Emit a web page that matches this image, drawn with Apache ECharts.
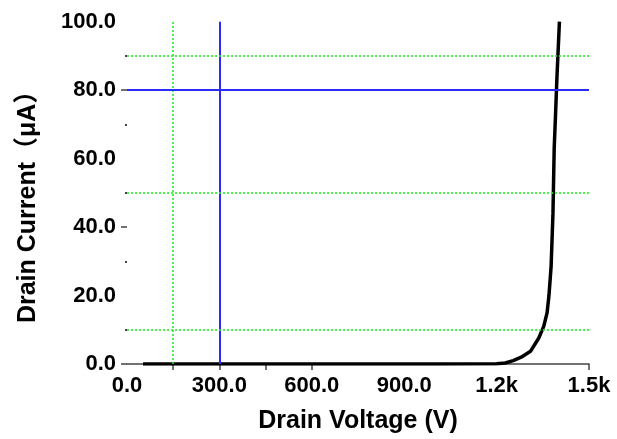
<!DOCTYPE html>
<html>
<head>
<meta charset="utf-8">
<script src="https://cdn.jsdelivr.net/npm/echarts@6/dist/echarts.min.js"></script>
<style>
html,body{margin:0;padding:0;background:#fff;}
#chart{width:617px;height:439px;}
</style>
</head>
<body>
<div id="chart"></div>
<script>
// Drain voltage (V) and drain current (uA)
var voltage = [52, 200, 400, 600, 800, 1000, 1200, 1228, 1254, 1280, 1310, 1337, 1353, 1364, 1370, 1377, 1383, 1387, 1391, 1396, 1400, 1404];
var current = [0, 0, 0, 0, 0, 0, 0.1, 0.3, 1.0, 2.0, 3.7, 7.6, 11, 15, 20, 28.5, 44, 63, 72, 84, 92, 100];

// Reference lines
var greenVertical = [150];
var blueVertical = [300];
var blueHorizontal = [80];
var greenHorizontal = [90, 50, 10];

// Axis ticks
var xTickLabels = ['0.0', '300.0', '600.0', '900.0', '1.2k', '1.5k'];
var xTickValues = [150, 300, 450, 600, 1500];
var yTickValues = [0, 40, 80];

var xTitle = 'Drain Voltage (V)';
var yTitle = 'Drain Current（μA）';

var curve = voltage.map(function (v, i) { return [v, current[i]]; });

var green = '#22f022', blue = '#2a2aff';
var mlData = [];
greenVertical.forEach(function (v) { mlData.push({ xAxis: v, lineStyle: { color: green, type: [2, 2], width: 1.6 } }); });
blueVertical.forEach(function (v) { mlData.push({ xAxis: v, lineStyle: { color: blue, type: 'solid', width: 2 } }); });
greenHorizontal.forEach(function (v) { mlData.push({ yAxis: v, lineStyle: { color: green, type: [2, 2], width: 1.6 } }); });
blueHorizontal.forEach(function (v) { mlData.push({ yAxis: v, lineStyle: { color: blue, type: 'solid', width: 2 } }); });

var chart = echarts.init(document.getElementById('chart'), null, { renderer: 'canvas' });
var font = '"Liberation Sans", Arial, sans-serif';
chart.setOption({
  animation: false,
  backgroundColor: '#ffffff',
  grid: { left: 127, right: 28, top: 21.7, bottom: 74.7, containLabel: false },
  xAxis: {
    type: 'value', min: 0, max: 1500, interval: 300,
    name: xTitle, nameLocation: 'middle', nameGap: 45,
    nameTextStyle: { fontFamily: font, fontWeight: 'bold', fontSize: 25, color: '#000' },
    axisLine: { show: true, onZero: false, lineStyle: { color: '#444', width: 1.5 } },
    axisTick: { show: true, length: 6, customValues: xTickValues, lineStyle: { color: '#444', width: 1.5 } },
    axisLabel: {
      fontFamily: font, fontWeight: 'bold', fontSize: 22, color: '#000', margin: 11,
      formatter: function (v) { return xTickLabels[Math.round(v / 300)]; }
    },
    splitLine: { show: false }
  },
  yAxis: {
    type: 'value', min: 0, max: 100, interval: 20,
    name: yTitle, nameLocation: 'middle', nameGap: 86, nameRotate: 90,
    nameTextStyle: { fontFamily: font + ', "Noto Sans CJK SC"', fontWeight: 'bold', fontSize: 25, color: '#000', padding: [0, 16, 0, 0] },
    axisLine: { show: false },
    axisTick: { show: true, inside: false, length: 6, customValues: yTickValues, lineStyle: { color: '#444', width: 1.5 } },
    minorTick: { show: true, splitNumber: 2, length: 2, lineStyle: { color: '#444', width: 2 } },
    axisLabel: {
      fontFamily: font, fontWeight: 'bold', fontSize: 22, color: '#000', margin: 11,
      formatter: function (v) { return v.toFixed(1); }
    },
    splitLine: { show: false }
  },
  series: [
    {
      type: 'line', data: [], z: 1, silent: true,
      markLine: { silent: true, symbol: ['none', 'none'], label: { show: false }, animation: false, data: mlData }
    },
    {
      type: 'line', data: curve, z: 3, showSymbol: false, symbol: 'none', smooth: false,
      lineStyle: { color: '#000', width: 3.5 }
    }
  ]
});
</script>
</body>
</html>
